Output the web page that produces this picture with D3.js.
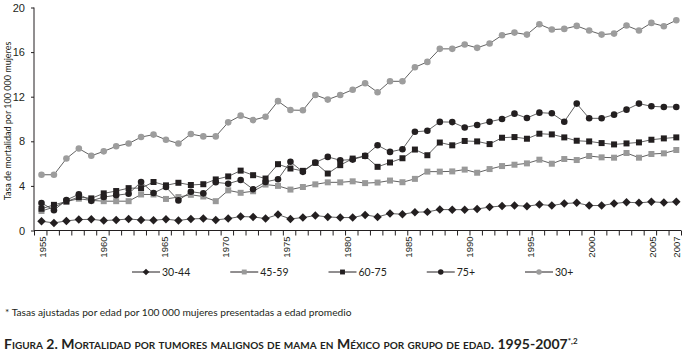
<!DOCTYPE html>
<html>
<head>
<meta charset="utf-8">
<script src="https://cdn.jsdelivr.net/npm/d3@7"></script>
<style>
    body { margin: 0; background: #fff; }
    svg { display: block; font-family: Lato, "Open Sans", sans-serif; }
    .axis path, .axis line { stroke: #231f20; }
    .axis text { fill: #231f20; }
</style>
</head>
<body>
<div class="vis"></div>
<script>
(function () {
    const svgWidth = 687;
    const svgHeight = 354;

    // 52 puntos repartidos entre 1955 y 2007
    const categorias = d3.range(52);
    const etiquetasX = [1955, 1960, 1965, 1970, 1975, 1980, 1985, 1990, 1995, 2000, 2005, 2007];
    const etiquetasY = [0, 4, 8, 12, 16, 20];

    const grupos = ["30-44", "45-59", "60-75", "75+", "30+"];

    const g3044 = [0.83, 0.68, 0.86, 0.98, 1.00, 0.89, 0.95, 1.03, 0.95, 0.92, 1.01, 0.90, 1.04,
        1.07, 0.95, 1.07, 1.25, 1.22, 1.07, 1.43, 1.04, 1.16, 1.34, 1.22, 1.16, 1.16, 1.40,
        1.22, 1.52, 1.46, 1.64, 1.67, 1.88, 1.87, 1.87, 1.93, 2.10, 2.20, 2.24, 2.18, 2.33,
        2.24, 2.42, 2.48, 2.24, 2.24, 2.42, 2.54, 2.48, 2.57, 2.51, 2.57];
    const g4559 = [1.75, 2.10, 2.60, 2.85, 2.70, 2.63, 2.63, 2.63, 3.23, 3.23, 2.83, 3.00, 3.20,
        3.05, 2.63, 3.60, 3.38, 3.52, 4.12, 4.00, 3.67, 3.90, 4.14, 4.32, 4.32, 4.41, 4.25,
        4.30, 4.48, 4.33, 4.63, 5.28, 5.28, 5.30, 5.46, 5.18, 5.51, 5.78, 5.90, 6.02, 6.35,
        5.99, 6.41, 6.32, 6.68, 6.56, 6.53, 6.95, 6.53, 6.86, 6.92, 7.22];
    const g6075 = [1.95, 2.30, 2.60, 3.00, 2.88, 3.33, 3.54, 3.80, 3.80, 4.35, 4.05, 4.28, 4.08,
        4.15, 4.58, 4.85, 5.37, 4.96, 4.66, 5.95, 5.56, 5.35, 6.07, 5.11, 5.86, 6.45, 6.69,
        5.71, 6.10, 6.48, 7.26, 6.75, 7.89, 7.64, 8.03, 7.99, 7.75, 8.32, 8.38, 8.23, 8.68,
        8.62, 8.35, 8.05, 7.99, 7.84, 7.72, 7.81, 7.90, 8.14, 8.26, 8.35];
    const g75 = [2.47, 1.82, 2.73, 3.25, 2.66, 3.00, 3.16, 3.30, 4.35, 3.36, 3.90, 2.70, 3.48,
        3.33, 4.32, 4.20, 4.53, 3.70, 4.36, 4.60, 6.16, 5.26, 6.10, 6.60, 6.30, 6.36, 6.69,
        7.65, 7.05, 7.29, 8.85, 8.94, 9.74, 9.72, 9.24, 9.46, 9.76, 10.00, 10.48, 10.09, 10.57,
        10.51, 9.76, 11.38, 10.06, 10.06, 10.39, 10.84, 11.38, 11.14, 11.08, 11.08];
    const g30mas = [5.00, 5.00, 6.45, 7.35, 6.70, 7.10, 7.55, 7.80, 8.38, 8.60, 8.14, 7.80, 8.65,
        8.44, 8.44, 9.70, 10.30, 9.90, 10.20, 11.60, 10.80, 10.78, 12.16, 11.74, 12.16, 12.63, 13.20,
        12.40, 13.38, 13.38, 14.64, 15.12, 16.29, 16.29, 16.68, 16.38, 16.77, 17.51, 17.75, 17.57, 18.50,
        18.02, 18.08, 18.35, 17.93, 17.57, 17.66, 18.38, 17.93, 18.62, 18.32, 18.86];

    const valores = [g3044, g4559, g6075, g75, g30mas];
    const colores = ["#231f20", "#999999", "#231f20", "#231f20", "#9d9d9d"];
    const simbolos = [d3.symbolSquare, d3.symbolSquare, d3.symbolSquare, d3.symbolCircle, d3.symbolCircle];
    const tamanos = [36, 36, 36, 34, 34];
    const giros = [45, 0, 0, 0, 0];

    const svg = d3.select('.vis')
        .append('svg')
            .attr('width', svgWidth)
            .attr('height', svgHeight);

    const left = 34, right = 681, top = 7.5, bottom = 230.5;

    const yScale = d3.scaleLinear()
        .domain([0, 20])
        .range([bottom, top]);

    const xScale = d3.scalePoint()
        .domain(categorias)
        .range([41.5, 676.3]);

    // marcas del eje entre categorias
    const tickScale = d3.scaleLinear()
        .domain([0, categorias.length])
        .range([left, right]);

    const yearScale = d3.scaleLinear()
        .domain([1955, 2007])
        .range([41.7, 676.3]);

    // eje y
    const yAxis = svg.append('g')
        .attr('class', 'axis')
        .attr('transform', `translate(${left}, 0)`)
        .call(d3.axisLeft(yScale).tickValues(etiquetasY).tickSize(3).tickPadding(6));
    yAxis.select('.domain').attr('d', `M0,${top}V${bottom}`);
    yAxis.selectAll('text').style('font-size', '11px');

    svg.append('text')
        .attr('transform', `translate(11, ${(top + bottom) / 2 + 2}) rotate(-90)`)
        .attr('text-anchor', 'middle')
        .style('font-size', '9px')
        .attr('fill', '#231f20')
        .text('Tasa de mortalidad por 100 000 mujeres');

    // eje x
    const xAxis = svg.append('g')
        .attr('class', 'axis')
        .attr('transform', `translate(0, ${bottom})`)
        .call(d3.axisBottom(tickScale).tickValues(d3.range(categorias.length + 1)).tickSize(5).tickFormat(''));
    xAxis.select('.domain').attr('d', `M${left},0H${right}`);

    const yearAxis = svg.append('g')
        .attr('class', 'axis')
        .attr('transform', `translate(0, ${bottom})`)
        .call(d3.axisBottom(yearScale).tickValues(etiquetasX).tickSize(0).tickFormat(d3.format('d')));
    yearAxis.select('.domain').remove();
    yearAxis.selectAll('text')
        .style('font-size', '9.5px')
        .attr('text-anchor', 'end')
        .attr('transform', 'rotate(-90)')
        .attr('x', -6)
        .attr('y', 0)
        .attr('dy', '0.35em');

    const line = d3.line()
        .x((d, i) => xScale(categorias[i]))
        .y(d => yScale(d));

    valores.forEach(function (serie, k) {
        const grupo = svg.append('g');
        grupo.append('path')
            .datum(serie)
            .attr('fill', 'none')
            .attr('stroke', '#3a3a3a')
            .attr('stroke-width', 0.8)
            .attr('d', line);
        grupo.selectAll('path.marca')
            .data(serie)
            .enter().append('path')
                .attr('class', 'marca')
                .attr('d', d3.symbol().type(simbolos[k]).size(tamanos[k]))
                .attr('fill', colores[k])
                .attr('transform', (d, i) => `translate(${xScale(categorias[i])}, ${yScale(d)}) rotate(${giros[k]})`);
    });

    // leyenda
    const legendX = d3.scalePoint()
        .domain(grupos)
        .range([132, 525]);
    const legend = svg.append('g')
        .attr('transform', 'translate(0, 272)');
    const items = legend.selectAll('g')
        .data(grupos)
        .enter().append('g')
            .attr('transform', d => `translate(${legendX(d)}, 0)`);
    items.append('line')
        .attr('x1', 0).attr('x2', 28)
        .attr('stroke', '#231f20')
        .attr('stroke-width', 1);
    items.append('path')
        .attr('d', (d, k) => d3.symbol().type(simbolos[k]).size(k === 0 ? 22 : 24)())
        .attr('fill', (d, k) => colores[k])
        .attr('transform', (d, k) => `translate(14, 0) rotate(${giros[k]})`);
    items.append('text')
        .attr('x', 30)
        .attr('dy', '0.35em')
        .style('font-size', '10.5px')
        .attr('fill', '#231f20')
        .text(d => d);

    // nota y titulo
    svg.append('text')
        .attr('x', 5)
        .attr('y', 316)
        .style('font-size', '10.2px')
        .attr('fill', '#231f20')
        .text('* Tasas ajustadas por edad por 100 000 mujeres presentadas a edad promedio');

    const titulo = svg.append('text')
        .attr('x', 4)
        .attr('y', 349)
        .attr('fill', '#231f20')
        .style('font-size', '14px')
        .style('font-weight', 'bold')
        .style('font-variant', 'small-caps');
    titulo.append('tspan')
        .text('Figura 2. Mortalidad por tumores malignos de mama en México por grupo de edad. 1995-2007');
    titulo.append('tspan')
        .attr('dy', -5)
        .style('font-size', '8px')
        .text('*,2');
}());
</script>
</body>
</html>
